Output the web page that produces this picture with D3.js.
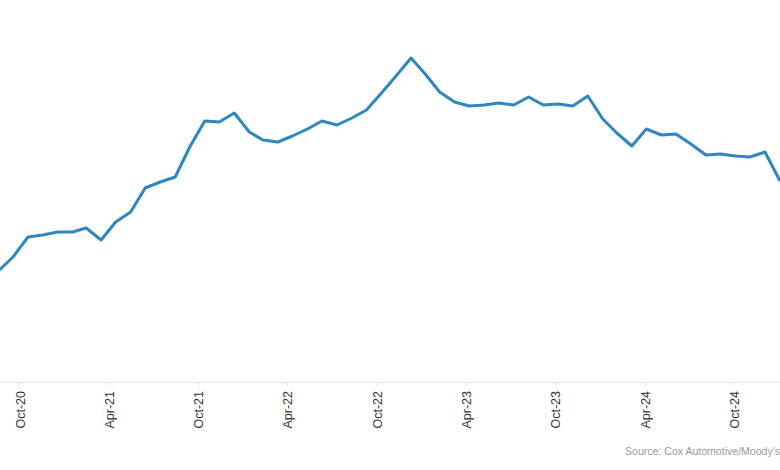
<!DOCTYPE html>
<html>
<head>
<meta charset="utf-8">
<script src="https://cdn.jsdelivr.net/npm/d3@7"></script>
<style>
  body { margin: 0; background: #fff; }
  svg { display: block; }
</style>
</head>
<body>
<svg width="780" height="470"></svg>
<script>
// monthly index values, Sep-20 .. Feb-25
var months = ["2020-09","2020-10","2020-11","2020-12","2021-01","2021-02","2021-03","2021-04","2021-05","2021-06",
  "2021-07","2021-08","2021-09","2021-10","2021-11","2021-12","2022-01","2022-02","2022-03","2022-04",
  "2022-05","2022-06","2022-07","2022-08","2022-09","2022-10","2022-11","2022-12","2023-01","2023-02",
  "2023-03","2023-04","2023-05","2023-06","2023-07","2023-08","2023-09","2023-10","2023-11","2023-12",
  "2024-01","2024-02","2024-03","2024-04","2024-05","2024-06","2024-07","2024-08","2024-09","2024-10",
  "2024-11","2024-12","2025-01","2025-02"];
var values = [129,143,163,165,168,168,172,160,178,188,
  212,218,223,253,279,278,287,268,260,258,
  264,271,279,275,282,290,307,324,342,325,
  308,298,294,295,297,295,303,295,296,294,
  304,281,267,254,271,265,266,256,245,246,
  244,243,248,219];
var tickLabels = ["Oct-20","Apr-21","Oct-21","Apr-22","Oct-22","Apr-23","Oct-23","Apr-24","Oct-24"];

var parse = d3.timeParse("%Y-%m");
var data = months.map(function(m, i){ return {date: parse(m), value: values[i]}; });

var svg = d3.select("svg");
var xScale = d3.scaleTime()
    .domain([parse("2020-10"), parse("2025-02")])
    .range([13, 780]);
var yScale = d3.scaleLinear().domain([0, 400]).range([400, 0]);

var baseY = 382;

// tick marks drift slightly later each half-year in the original
var tickDates = tickLabels.map(function(t, i){
    var d = d3.timeParse("%b-%y")(t);
    return d3.timeDay.offset(d, Math.round(14 + i * 1.8));
});

var axis = svg.append("g")
    .attr("transform", "translate(0," + baseY + ")")
    .call(d3.axisBottom(xScale)
        .tickValues(tickDates)
        .tickSize(4)
        .tickFormat(function(d, i){ return tickLabels[i]; }));
axis.select(".domain").attr("stroke", "#e2e2e2").attr("d", "M0,0.5H780");
axis.selectAll(".tick line").attr("stroke", "#e2e2e2");
axis.selectAll(".tick text")
    .attr("font-family", "Liberation Sans, Arial, sans-serif")
    .attr("font-size", "12.5px")
    .attr("fill", "#333")
    .attr("transform", "rotate(-90)")
    .attr("text-anchor", "end")
    .attr("x", -9)
    .attr("y", 0)
    .attr("dy", "0.35em");

var line = d3.line()
    .x(function(d){ return xScale(d.date); })
    .y(function(d){ return yScale(d.value); });

svg.append("path")
    .datum(data)
    .attr("fill", "none")
    .attr("stroke", "#2f86c0")
    .attr("stroke-width", 3)
    .attr("stroke-linejoin", "round")
    .attr("d", line);

svg.append("text")
    .attr("x", 625)
    .attr("y", 455)
    .attr("font-family", "Liberation Sans Narrow, Liberation Sans, sans-serif")
    .attr("font-size", "10.5px")
    .attr("fill", "#999")
    .attr("textLength", 155)
    .attr("lengthAdjust", "spacingAndGlyphs")
    .text("Source: Cox Automotive/Moody's");
</script>
</body>
</html>
